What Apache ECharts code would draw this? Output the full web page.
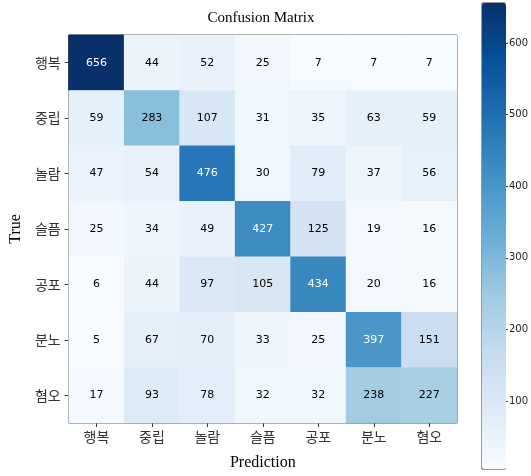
<!DOCTYPE html>
<html><head><meta charset="utf-8">
<script src="https://cdn.jsdelivr.net/npm/echarts@6/dist/echarts.min.js"></script>
<style>html,body{margin:0;padding:0;background:#fff}#c{width:531px;height:476px}</style>
</head><body><div id="c"></div>
<script>
const categories = ['행복','중립','놀람','슬픔','공포','분노','혐오'];
const row행복 = [656,44,52,25,7,7,7];
const row중립 = [59,283,107,31,35,63,59];
const row놀람 = [47,54,476,30,79,37,56];
const row슬픔 = [25,34,49,427,125,19,16];
const row공포 = [6,44,97,105,434,20,16];
const row분노 = [5,67,70,33,25,397,151];
const row혐오 = [17,93,78,32,32,238,227];
const matrix = [row행복,row중립,row놀람,row슬픔,row공포,row분노,row혐오];
const colorbarTicks = [100,200,300,400,500,600];
const blues = ['#f7fbff','#deebf7','#c6dbef','#9ecae1','#6baed6','#4292c6','#2171b5','#08519c','#08306b'];

let vmin = Infinity, vmax = -Infinity;
matrix.forEach(r => r.forEach(v => { vmin = Math.min(vmin, v); vmax = Math.max(vmax, v); }));
const thresh = vmax / 2;
const data = [];
matrix.forEach((r, i) => r.forEach((v, j) => {
  data.push({ value: [j, i, v], label: { color: v > thresh ? '#ffffff' : '#000000' } });
}));

const chart = echarts.init(document.getElementById('c'), null, { renderer: 'canvas' });
const serif = '"Liberation Serif", "DejaVu Serif", serif';
const kfont = '"Noto Sans CJK KR", sans-serif';
chart.setOption({
  animation: false,
  backgroundColor: '#ffffff',
  title: {
    text: 'Confusion Matrix', left: 256, top: 6, textAlign: 'center',
    textStyle: { fontFamily: serif, fontSize: 15, fontWeight: 'normal', color: '#000' }
  },
  grid: [
    { left: 56, top: 35, width: 401, height: 398, show: true, borderColor: '#333', borderWidth: 1, backgroundColor: 'transparent', containLabel: false },
    { left: 482, top: 3, width: 24, height: 466, show: true, borderColor: '#333', borderWidth: 1, backgroundColor: 'transparent', containLabel: false }
  ],
  xAxis: [
    {
      type: 'category', data: categories, gridIndex: 0, position: 'bottom',
      name: 'Prediction', nameLocation: 'middle', nameGap: 32,
      nameTextStyle: { fontFamily: serif, fontSize: 16, color: '#000' },
      axisLine: { show: false },
      axisTick: { show: true, alignWithLabel: true, length: 4, lineStyle: { color: '#333' } },
      axisLabel: { fontFamily: kfont, fontSize: 14, color: '#333', margin: 7 },
      splitLine: { show: false }
    },
    { type: 'category', data: ['c'], gridIndex: 1, show: false }
  ],
  yAxis: [
    {
      type: 'category', data: categories, gridIndex: 0, inverse: true,
      name: 'True', nameLocation: 'middle', nameGap: 40,
      nameTextStyle: { fontFamily: serif, fontSize: 16, color: '#000' },
      axisLine: { show: false },
      axisTick: { show: true, alignWithLabel: true, length: 4, lineStyle: { color: '#333' } },
      axisLabel: { fontFamily: kfont, fontSize: 14, color: '#333', margin: 8 },
      splitLine: { show: false }
    },
    {
      type: 'value', gridIndex: 1, position: 'right', min: vmin, max: vmax,
      axisLine: { show: false },
      axisTick: { show: true, length: 3, customValues: colorbarTicks, lineStyle: { color: '#333' } },
      axisLabel: { fontFamily: '"DejaVu Sans", sans-serif', fontSize: 10, color: '#222', margin: 4, customValues: colorbarTicks },
      splitLine: { show: false }
    }
  ],
  visualMap: {
    type: 'continuous', min: vmin, max: vmax, seriesIndex: 0,
    calculable: false, showLabel: false, text: null, hoverLink: false,
    left: 482, top: 3, itemWidth: 24, itemHeight: 466, padding: 0,
    inRange: { color: blues }
  },
  series: [{
    type: 'heatmap', xAxisIndex: 0, yAxisIndex: 0, data: data,
    itemStyle: { borderWidth: 0 },
    label: { show: true, fontFamily: '"DejaVu Sans", sans-serif', fontSize: 11,
      formatter: p => String(p.value[2]) },
    emphasis: { disabled: true }
  }]
});
</script></body></html>
